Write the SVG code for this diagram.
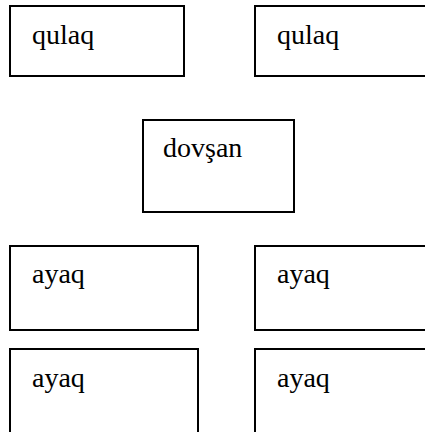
<svg xmlns="http://www.w3.org/2000/svg" width="425" height="432" viewBox="0 0 425 432">
  <style>
    .box { fill: #ffffff; stroke: #000000; stroke-width: 2; }
    .lbl { font-family: "Liberation Serif", "Times New Roman", serif; font-size: 28px; fill: #000000; }
  </style>
  <rect width="425" height="432" fill="#ffffff"/>
  <g id="connectors"></g>
  <g id="ear-left">
    <rect class="box" x="10" y="6" width="174" height="70"/>
    <text class="lbl" x="32" y="44">qulaq</text>
  </g>
  <g id="ear-right">
    <rect class="box" x="255" y="6" width="180" height="70"/>
    <text class="lbl" x="277" y="44">qulaq</text>
  </g>
  <g id="rabbit">
    <rect class="box" x="143" y="120" width="151" height="92"/>
    <text class="lbl" x="163" y="157">dovşan</text>
  </g>
  <g id="leg-1">
    <rect class="box" x="10" y="246" width="188" height="84"/>
    <text class="lbl" x="32" y="283">ayaq</text>
  </g>
  <g id="leg-2">
    <rect class="box" x="255" y="246" width="180" height="84"/>
    <text class="lbl" x="277" y="283">ayaq</text>
  </g>
  <g id="leg-3">
    <rect class="box" x="10" y="349" width="188" height="100"/>
    <text class="lbl" x="32" y="387">ayaq</text>
  </g>
  <g id="leg-4">
    <rect class="box" x="255" y="349" width="180" height="100"/>
    <text class="lbl" x="277" y="387">ayaq</text>
  </g>
</svg>
